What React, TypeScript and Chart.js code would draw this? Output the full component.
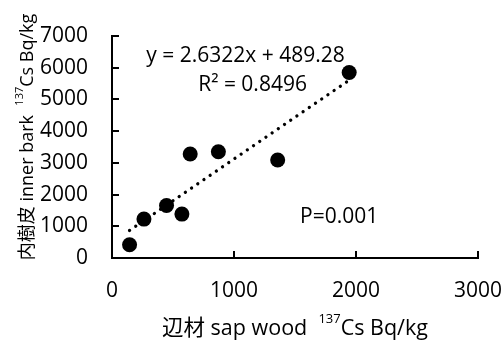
import React, { useEffect, useRef } from 'react';
import { Chart, registerables } from 'chart.js';

Chart.register(...registerables);

// ---- data ----
const sapWood = [144, 262, 447, 573, 641, 872, 1358, 1944];
const innerBark = [418, 1226, 1654, 1384, 3280, 3352, 3091, 5849];
const slope = 2.6322;
const intercept = 489.28;
const xTicks = [0, 1000, 2000, 3000];
const yTicks = [0, 1000, 2000, 3000, 4000, 5000, 6000, 7000];
const eqLabel = 'y = 2.6322x + 489.28';
const r2Label = 'R² = 0.8496';
const pLabel = 'P=0.001';
const xTitleParts = ['辺材 sap wood  ', '137', 'Cs Bq/kg'];
const yTitleParts = ['内樹皮 inner bark  ', '137', 'Cs Bq/kg'];

const FONT = '"Open Sans", "Noto Sans CJK JP", sans-serif';

function drawTitle(ctx: CanvasRenderingContext2D, parts: string[], size: number, supSize: number) {
  const main = `${size}px ${FONT}`;
  const sup = `${supSize}px ${FONT}`;
  ctx.font = main;
  const w0 = ctx.measureText(parts[0]).width;
  const w2 = ctx.measureText(parts[2]).width;
  ctx.font = sup;
  const w1 = ctx.measureText(parts[1]).width;
  const total = w0 + w1 + w2;
  let x = -total / 2;
  ctx.textAlign = 'left';
  ctx.textBaseline = 'alphabetic';
  ctx.font = main;
  ctx.fillText(parts[0], x, 0);
  x += w0;
  ctx.font = sup;
  ctx.fillText(parts[1], x, -size * 0.55);
  x += w1;
  ctx.font = main;
  ctx.fillText(parts[2], x, 0);
}

const decorPlugin = {
  id: 'decor',
  afterDraw(chart: any) {
    const ctx: CanvasRenderingContext2D = chart.ctx;
    const xs = chart.scales.x;
    const ys = chart.scales.y;
    const ca = chart.chartArea;
    ctx.save();
    ctx.strokeStyle = '#000';
    ctx.lineWidth = 2;
    // inward tick marks
    yTicks.forEach((v) => {
      if (v === 0) return;
      const y = Math.round(ys.getPixelForValue(v));
      ctx.beginPath();
      ctx.moveTo(ca.left, y);
      ctx.lineTo(ca.left + 7, y);
      ctx.stroke();
    });
    xTicks.forEach((v) => {
      if (v === 0) return;
      const x = Math.round(xs.getPixelForValue(v));
      ctx.beginPath();
      ctx.moveTo(x, ca.bottom);
      ctx.lineTo(x, ca.bottom - 7);
      ctx.stroke();
    });

    ctx.fillStyle = '#000';
    ctx.textAlign = 'center';
    ctx.textBaseline = 'middle';
    ctx.font = `21px ${FONT}`;
    ctx.fillText(eqLabel, xs.getPixelForValue(1094), ys.getPixelForValue(6360));
    ctx.fillText(r2Label, xs.getPixelForValue(1152), ys.getPixelForValue(5440));
    ctx.fillText(pLabel, xs.getPixelForValue(1862), ys.getPixelForValue(1300));

    // x title
    ctx.save();
    ctx.translate(295, 335);
    drawTitle(ctx, xTitleParts, 21.5, 13);
    ctx.restore();

    // y title
    ctx.save();
    ctx.translate(33, 137);
    ctx.rotate(-Math.PI / 2);
    drawTitle(ctx, yTitleParts, 18, 11);
    ctx.restore();

    ctx.restore();
  },
};

export default function App() {
  const ref = useRef<HTMLCanvasElement | null>(null);
  useEffect(() => {
    document.body.style.margin = '0';
    if (!ref.current) return;
    const trendXs = [Math.min(...sapWood), Math.max(...sapWood)];
    const chart = new Chart(ref.current, {
      type: 'scatter',
      data: {
        datasets: [
          {
            data: trendXs.map((x) => ({ x, y: slope * x + intercept })),
            showLine: true,
            pointRadius: 0,
            borderColor: '#000',
            borderWidth: 3.3,
            borderDash: [0.01, 7.5],
            borderCapStyle: 'round',
            fill: false,
          } as any,
          {
            data: sapWood.map((x, i) => ({ x, y: innerBark[i] })),
            pointRadius: 7.5,
            pointHoverRadius: 7.5,
            backgroundColor: '#000',
            borderColor: '#000',
            borderWidth: 0,
          },
        ],
      },
      options: {
        animation: false,
        responsive: true,
        maintainAspectRatio: false,
        layout: { padding: { top: 36, right: 26, left: 0, bottom: 0 } },
        plugins: { legend: { display: false }, tooltip: { enabled: false } },
        scales: {
          x: {
            type: 'linear',
            min: 0,
            max: 3000,
            afterBuildTicks: (s: any) => {
              s.ticks = xTicks.map((v) => ({ value: v }));
            },
            ticks: {
              font: { size: 21, family: FONT },
              color: '#000',
              padding: 20,
              maxRotation: 0,
              callback: (v: any) => String(v),
            },
            grid: { display: false, drawTicks: false },
            border: { display: true, color: '#000', width: 2 },
            afterFit: (s: any) => {
              s.height = 82;
              s.paddingLeft = 0;
              s.paddingRight = 0;
            },
          },
          y: {
            type: 'linear',
            min: 0,
            max: 7000,
            afterBuildTicks: (s: any) => {
              s.ticks = yTicks.map((v) => ({ value: v }));
            },
            ticks: {
              font: { size: 21, family: FONT },
              color: '#000',
              padding: 24,
              callback: (v: any) => String(v),
            },
            grid: { display: false, drawTicks: false },
            border: { display: true, color: '#000', width: 2 },
            afterFit: (s: any) => {
              s.width = 112;
              s.paddingTop = 0;
              s.paddingBottom = 0;
            },
          },
        },
      },
      plugins: [decorPlugin],
    });
    return () => chart.destroy();
  }, []);
  return (
    <div style={{ width: 504, height: 340, position: 'relative' }}>
      <canvas ref={ref} />
    </div>
  );
}
